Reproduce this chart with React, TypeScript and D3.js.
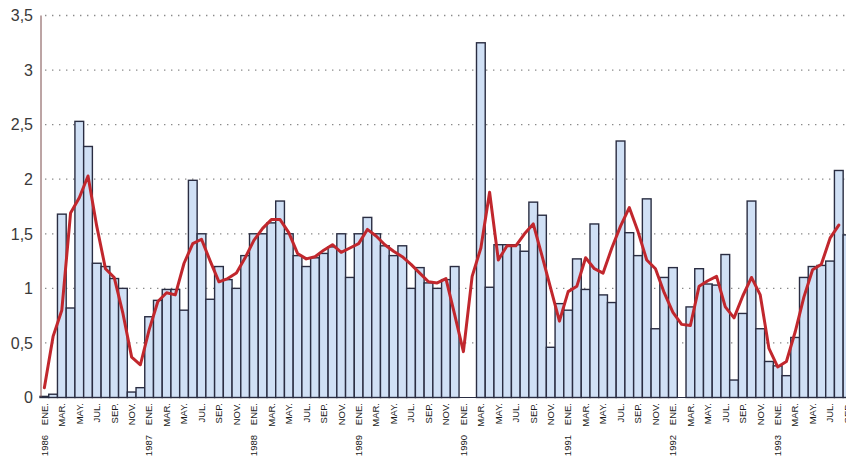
import * as d3 from "d3";

/** month labels (Spanish, as printed) */
const monthNames = ["ENE.", "FEB.", "MAR.", "ABR.", "MAY.", "JUN.", "JUL.", "AGO.", "SEP.", "OCT.", "NOV.", "DIC."];
const years = [1986, 1987, 1988, 1989, 1990, 1991, 1992, 1993];
const yTicks = [0, 0.5, 1, 1.5, 2, 2.5, 3, 3.5];

/** monthly values (bars), ENE 1986 .. SEP 1993 */
const barValues = [
  0.01, 0.03, 1.68, 0.82, 2.53, 2.3, 1.23, 1.2, 1.09, 1.0, 0.05, 0.09, // 1986
  0.74, 0.89, 0.99, 0.99, 0.8, 1.99, 1.5, 0.9, 1.2, 1.08, 1.0, 1.3, // 1987
  1.5, 1.5, 1.6, 1.8, 1.5, 1.3, 1.2, 1.28, 1.32, 1.38, 1.5, 1.1, // 1988
  1.5, 1.65, 1.5, 1.39, 1.3, 1.39, 1.0, 1.19, 1.05, 1.0, 1.08, 1.2, // 1989
  0, 0, 3.25, 1.01, 1.4, 1.4, 1.4, 1.34, 1.79, 1.67, 0.46, 0.86, // 1990
  0.8, 1.27, 0.99, 1.59, 0.94, 0.87, 2.35, 1.51, 1.3, 1.82, 0.63, 1.1, // 1991
  1.19, 0, 0.83, 1.18, 1.04, 1.03, 1.31, 0.16, 0.77, 1.8, 0.63, 0.33, // 1992
  0.29, 0.2, 0.55, 1.1, 1.2, 1.21, 1.25, 2.08, 1.49, // 1993
];

/** smoothed trend (red line), ENE 1986 .. AGO 1993 */
const trendValues = [
  0.09, 0.56, 0.8, 1.69, 1.83, 2.03, 1.57, 1.18, 1.1, 0.77, 0.37, 0.3, // 1986
  0.62, 0.88, 0.96, 0.94, 1.23, 1.41, 1.45, 1.25, 1.06, 1.09, 1.14, 1.28, // 1987
  1.44, 1.55, 1.63, 1.63, 1.51, 1.32, 1.27, 1.29, 1.35, 1.4, 1.33, 1.37, // 1988
  1.41, 1.54, 1.48, 1.4, 1.34, 1.29, 1.22, 1.14, 1.06, 1.05, 1.09, 0.76, // 1989
  0.42, 1.11, 1.37, 1.88, 1.26, 1.39, 1.39, 1.5, 1.59, 1.3, 1.0, 0.7, // 1990
  0.97, 1.02, 1.28, 1.18, 1.14, 1.37, 1.57, 1.74, 1.52, 1.26, 1.18, 0.96, // 1991
  0.78, 0.67, 0.66, 1.02, 1.07, 1.11, 0.83, 0.73, 0.93, 1.1, 0.94, 0.45, // 1992
  0.28, 0.33, 0.6, 0.92, 1.17, 1.22, 1.46, 1.58, // 1993
];

/** svg dimensions */
const width = 846;
const height = 460;
const left = 40;
const step = 8.73;
const font = "'Liberation Sans', Arial, sans-serif";

const App = () => {
  const idx = d3.range(barValues.length);
  const x = d3
    .scaleBand<number>()
    .domain(idx)
    .range([left, left + step * barValues.length])
    .padding(0);
  const y = d3.scaleLinear().domain([0, 3.5]).range([397.5, 15.5]);
  const cx = (i: number) => (x(i) ?? 0) + x.bandwidth() / 2;

  const line = d3
    .line<number>()
    .x((_, i) => cx(i))
    .y((d) => y(d))
    .curve(d3.curveLinear);

  return (
    <svg
      width={width}
      height={height}
      viewBox={[0, 0, width, height].join(" ")}
      style={{ position: "absolute", left: 0, top: 0, background: "#fff" }}
    >
      {/* dotted gridlines */}
      {yTicks
        .filter((t) => t > 0)
        .map((t) => (
          <line
            key={t}
            x1={left + 5}
            x2={width}
            y1={y(t)}
            y2={y(t)}
            stroke="#8a8a8a"
            strokeWidth={1.3}
            strokeDasharray="1.4 5.6"
          />
        ))}
      {/* y tick labels */}
      {yTicks.map((t) => (
        <text
          key={t}
          x={33}
          y={y(t)}
          dy="0.36em"
          textAnchor="end"
          fontFamily={font}
          fontSize={16}
          fill="#3a3a3a"
        >
          {String(t).replace(".", ",")}
        </text>
      ))}
      {/* bars */}
      {barValues.map((v, i) => (
        <rect
          key={i}
          x={x(i)}
          y={y(v)}
          width={x.bandwidth()}
          height={y(0) - y(v)}
          fill="#d0e0f5"
          stroke="#2a2d42"
          strokeWidth={1.4}
        />
      ))}
      {/* axes */}
      <line x1={left + 1} x2={left + 1} y1={y(3.5)} y2={y(0)} stroke="#7a4a4a" strokeWidth={1} />
      <line x1={left} x2={width} y1={y(0)} y2={y(0)} stroke="#2a2d42" strokeWidth={1.2} />
      {/* trend line */}
      <path
        d={line(trendValues) ?? ""}
        fill="none"
        stroke="#c1272d"
        strokeWidth={3}
        strokeLinejoin="round"
        strokeLinecap="round"
      />
      {/* month labels */}
      {idx
        .filter((i) => i % 2 === 0)
        .map((i) => (
          <text
            key={i}
            transform={`translate(${cx(i)}, 403) rotate(-90)`}
            dy="0.35em"
            textAnchor="end"
            fontFamily={font}
            fontSize={9.5}
            fill="#1a1a1a"
          >
            {monthNames[i % 12]}
          </text>
        ))}
      {/* year labels */}
      {years.map((yr, k) => (
        <text
          key={yr}
          transform={`translate(${cx(k * 12)}, 435) rotate(-90)`}
          dy="0.35em"
          textAnchor="end"
          fontFamily={font}
          fontSize={9.5}
          fill="#1a1a1a"
        >
          {yr}
        </text>
      ))}
    </svg>
  );
};

export default App;
